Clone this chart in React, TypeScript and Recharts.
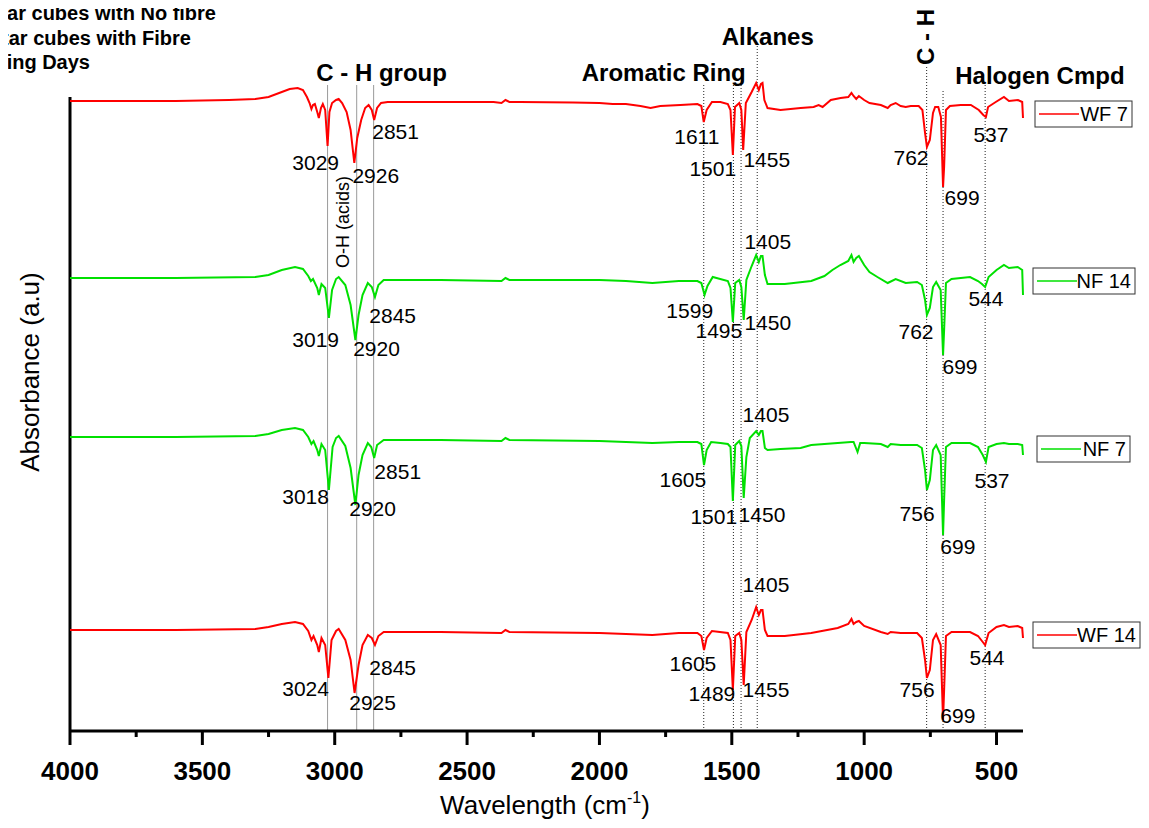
import { LineChart, Line, XAxis, YAxis, ReferenceLine, ReferenceDot } from "recharts";

type Pt = [number, number];

// FTIR spectra: [wavenumber (cm-1), absorbance relative to the trace's own baseline]
const wf7: Pt[] = [
  [4000, 0], [3800, 0], [3600, 0], [3400, 0.01], [3300, 0.02], [3250, 0.04], [3200, 0.09],
  [3170, 0.12], [3140, 0.13], [3120, 0.11], [3105, 0.04], [3095, -0.02], [3088, -0.08],
  [3082, -0.04], [3075, -0.03], [3066, -0.11], [3060, -0.17], [3052, -0.07], [3045, -0.03],
  [3036, -0.09], [3027, -0.45], [3020, -0.11], [3010, -0.02], [2995, 0.01], [2985, 0.02],
  [2972, -0.02], [2955, -0.11], [2940, -0.29], [2926, -0.62], [2915, -0.37], [2900, -0.19],
  [2885, -0.07], [2872, -0.04], [2860, -0.09], [2851, -0.19], [2840, -0.07], [2825, -0.02],
  [2800, -0.01], [2600, -0.01], [2400, -0.01], [2370, -0.02], [2355, 0.01], [2340, -0.01],
  [2300, -0.01], [2100, -0.015], [2000, -0.02], [1950, -0.03], [1900, -0.03], [1845, -0.05],
  [1807, -0.07], [1770, -0.05], [1694, -0.04], [1630, -0.03], [1615, -0.05], [1606, -0.21],
  [1595, -0.09], [1575, -0.01], [1543, -0.01], [1515, -0.03], [1505, -0.09], [1496, -0.54],
  [1488, -0.06], [1472, -0.02], [1464, -0.09], [1457, -0.49], [1447, -0.02], [1425, 0.09],
  [1408, 0.18], [1398, 0.11], [1390, 0.17], [1384, 0.18], [1377, 0.01], [1365, -0.07],
  [1316, -0.09], [1240, -0.07], [1191, -0.06], [1172, -0.04], [1157, -0.06], [1126, 0.01],
  [1089, 0.03], [1060, 0.04], [1048, 0.08], [1040, 0.05], [1030, 0.02], [1020, 0.05],
  [1000, 0.01], [980, -0.02], [937, -0.04], [911, -0.07], [900, -0.04], [881, -0.02],
  [862, -0.05], [843, -0.06], [824, -0.05], [794, -0.05], [780, -0.09], [770, -0.32],
  [763, -0.46], [752, -0.39], [740, -0.12], [732, -0.06], [720, -0.06], [710, -0.16],
  [702, -0.86], [698, -0.66], [691, -0.09], [676, -0.05], [635, -0.04], [597, -0.04],
  [567, -0.09], [550, -0.14], [540, -0.16], [532, -0.06], [503, -0.01], [472, 0.04],
  [453, 0], [419, 0.01], [403, -0.01], [400, -0.17],
];

const nf14: Pt[] = [
  [4000, 0], [3600, 0], [3300, 0.01], [3250, 0.03], [3200, 0.08], [3150, 0.11], [3120, 0.09],
  [3100, 0.02], [3090, -0.03], [3082, -0.01], [3066, -0.1], [3060, -0.17], [3050, -0.06],
  [3036, -0.1], [3022, -0.4], [3010, -0.12], [2995, -0.01], [2985, 0.01], [2960, -0.07],
  [2940, -0.27], [2922, -0.62], [2910, -0.37], [2895, -0.17], [2875, -0.05], [2860, -0.09],
  [2848, -0.19], [2835, -0.07], [2815, -0.02], [2600, -0.02], [2370, -0.03], [2355, 0],
  [2340, -0.02], [2000, -0.02], [1900, -0.03], [1800, -0.05], [1700, -0.03], [1630, -0.03],
  [1615, -0.05], [1603, -0.17], [1592, -0.08], [1572, 0.01], [1515, -0.03], [1505, -0.1],
  [1496, -0.44], [1487, -0.05], [1472, -0.02], [1464, -0.09], [1455, -0.42], [1445, -0.02],
  [1425, 0.12], [1408, 0.23], [1398, 0.16], [1390, 0.22], [1384, 0.22], [1375, 0.03],
  [1365, -0.06], [1300, -0.06], [1200, -0.03], [1150, 0.02], [1120, 0.08], [1090, 0.13],
  [1060, 0.17], [1048, 0.23], [1040, 0.16], [1030, 0.2], [1020, 0.22], [1000, 0.13],
  [980, 0.06], [950, 0.01], [911, -0.05], [881, -0.01], [843, -0.05], [800, -0.04],
  [782, -0.07], [770, -0.22], [763, -0.37], [752, -0.3], [740, -0.09], [728, -0.04],
  [711, -0.12], [702, -0.77], [698, -0.52], [691, -0.05], [670, -0.01], [600, 0.01],
  [570, -0.03], [555, -0.06], [543, -0.09], [530, 0.01], [500, 0.08], [472, 0.13],
  [453, 0.1], [420, 0.11], [403, 0.08], [400, -0.17],
];

const nf7: Pt[] = [
  [4000, 0], [3600, 0], [3300, 0.01], [3250, 0.03], [3200, 0.07], [3150, 0.09], [3120, 0.07],
  [3100, 0], [3088, -0.07], [3080, -0.04], [3066, -0.13], [3060, -0.19], [3050, -0.07],
  [3036, -0.13], [3022, -0.53], [3008, -0.1], [2995, -0.01], [2985, 0.01], [2960, -0.09],
  [2940, -0.31], [2922, -0.68], [2910, -0.38], [2895, -0.18], [2875, -0.06], [2862, -0.1],
  [2851, -0.21], [2840, -0.08], [2815, -0.03], [2600, -0.03], [2370, -0.04], [2355, -0.01],
  [2340, -0.03], [2000, -0.04], [1900, -0.05], [1800, -0.06], [1700, -0.05], [1630, -0.05],
  [1615, -0.07], [1605, -0.28], [1595, -0.13], [1578, -0.05], [1543, -0.06], [1515, -0.07],
  [1505, -0.1], [1496, -0.64], [1487, -0.08], [1472, -0.04], [1464, -0.09], [1455, -0.61],
  [1445, -0.2], [1432, -0.01], [1408, 0.06], [1398, 0.02], [1390, 0.06], [1384, 0.06],
  [1375, -0.11], [1365, -0.13], [1316, -0.12], [1240, -0.11], [1200, -0.08], [1100, -0.06],
  [1050, -0.05], [1040, -0.05], [1025, -0.15], [1015, -0.06], [1000, -0.06], [937, -0.07],
  [911, -0.1], [900, -0.07], [862, -0.08], [800, -0.08], [782, -0.11], [770, -0.33],
  [763, -0.53], [752, -0.43], [740, -0.13], [728, -0.08], [711, -0.18], [702, -0.98],
  [698, -0.63], [691, -0.1], [670, -0.06], [600, -0.06], [570, -0.1], [552, -0.18],
  [540, -0.25], [530, -0.1], [500, -0.07], [472, -0.06], [453, -0.07], [420, -0.07],
  [403, -0.08], [400, -0.18],
];

const wf14: Pt[] = [
  [4000, 0], [3600, 0], [3300, 0.01], [3250, 0.03], [3200, 0.06], [3150, 0.08], [3120, 0.06],
  [3100, -0.01], [3088, -0.1], [3080, -0.06], [3066, -0.15], [3060, -0.22], [3050, -0.08],
  [3036, -0.15], [3024, -0.48], [3012, -0.1], [2995, -0.01], [2985, 0.01], [2960, -0.1],
  [2940, -0.3], [2925, -0.63], [2910, -0.35], [2895, -0.15], [2875, -0.05], [2860, -0.08],
  [2848, -0.15], [2835, -0.06], [2815, -0.02], [2600, -0.02], [2370, -0.03], [2355, 0],
  [2340, -0.02], [2000, -0.03], [1900, -0.04], [1800, -0.05], [1700, -0.03], [1630, -0.03],
  [1615, -0.06], [1605, -0.2], [1595, -0.08], [1575, -0.01], [1515, -0.03], [1505, -0.1],
  [1496, -0.6], [1487, -0.06], [1472, -0.03], [1464, -0.1], [1455, -0.55], [1445, -0.02],
  [1425, 0.1], [1408, 0.23], [1398, 0.15], [1390, 0.2], [1384, 0.2], [1375, 0],
  [1365, -0.06], [1300, -0.06], [1200, -0.03], [1100, 0.02], [1060, 0.06], [1048, 0.11],
  [1040, 0.06], [1030, 0.08], [1020, 0.09], [1000, 0.04], [937, -0.02], [911, -0.04],
  [900, -0.02], [862, -0.03], [800, -0.03], [782, -0.08], [770, -0.3], [763, -0.48],
  [752, -0.4], [740, -0.1], [728, -0.04], [711, -0.15], [702, -0.9], [698, -0.6],
  [691, -0.06], [670, -0.02], [600, -0.02], [570, -0.06], [555, -0.11], [543, -0.15],
  [530, -0.03], [500, 0.03], [472, 0.05], [453, 0.03], [420, 0.04], [403, 0.02], [400, -0.08],
];

// vertical stacking offset of each trace
const offsets = { wf7: 6.3, nf14: 4.53, nf7: 2.94, wf14: 1.01 };

const xTicks = [4000, 3750, 3500, 3250, 3000, 2750, 2500, 2250, 2000, 1750, 1500, 1250, 1000, 750, 500];

// the drawn y axis stops at yAxisTop; the headroom above it keeps the top trace unclipped
const yAxisTop = 6.34;
const yMax = 7.31;

// band marker lines: [wavenumber, top of line]
const solidBands: Pt[] = [[3027, 6.46], [2917, 6.46], [2853, 6.46]];
const dottedBands: Pt[] = [
  [1606, 6.48], [1494, 6.48], [1465, 6.48], [1404, 6.86], [764, 6.66], [702, 6.4], [543, 6.46],
];

// peak labels: [text, wavenumber, absorbance]
type Note = [string, number, number];
const peakNotes: Note[] = [
  ["3029", 3072, 5.68], ["2926", 2845, 5.55], ["2851", 2770, 5.99], ["1611", 1632, 5.94],
  ["1501", 1572, 5.62], ["1455", 1368, 5.71], ["762", 823, 5.73], ["699", 630, 5.33],
  ["537", 521, 5.96],
  ["3019", 3072, 3.91], ["2920", 2842, 3.82], ["2845", 2781, 4.15], ["1405", 1364, 4.89],
  ["1599", 1659, 4.2], ["1495", 1549, 4.0], ["1450", 1364, 4.08], ["762", 804, 3.99],
  ["699", 638, 3.64], ["544", 540, 4.32],
  ["3018", 3110, 2.34], ["2920", 2857, 2.22], ["2851", 2762, 2.59], ["1405", 1371, 3.16],
  ["1605", 1685, 2.51], ["1501", 1568, 2.14], ["1450", 1386, 2.16], ["756", 800, 2.17],
  ["699", 646, 1.84], ["537", 517, 2.5],
  ["3024", 3110, 0.42], ["2925", 2857, 0.28], ["2845", 2781, 0.63], ["1405", 1371, 1.46],
  ["1605", 1647, 0.67], ["1489", 1575, 0.37], ["1455", 1371, 0.41], ["756", 800, 0.41],
  ["699", 646, 0.15], ["544", 536, 0.73],
];

const groupNotes: Note[] = [
  ["C - H group", 2823, 6.59], ["Aromatic Ring", 1757, 6.59], ["Alkanes", 1364, 6.95],
  ["Halogen Cmpd", 336, 6.56],
];

const series = [
  { name: "WF 7", pts: wf7, off: offsets.wf7, color: "#ff0000" },
  { name: "NF 14", pts: nf14, off: offsets.nf14, color: "#00e000" },
  { name: "NF 7", pts: nf7, off: offsets.nf7, color: "#00e000" },
  { name: "WF 14", pts: wf14, off: offsets.wf14, color: "#ff0000" },
];

const FONT = "Arial, 'Liberation Sans', sans-serif";

const toRows = (pts: Pt[], off: number) => pts.map(([w, a]) => ({ w, a: +(a + off).toFixed(3) }));

function XTick({ x, y, payload }: any) {
  const major = payload.value % 500 === 0;
  return (
    <g>
      <line x1={x} x2={x} y1={y} y2={y + (major ? 14 : 6)} stroke="#000" strokeWidth={3} />
      {major && (
        <text x={x} y={y + 49} textAnchor="middle" fontSize={26} fontWeight="bold" fontFamily={FONT} fill="#000">
          {payload.value}
        </text>
      )}
    </g>
  );
}

// legend boxes sit beside each trace
const legendBoxes = [
  { name: "WF 7", color: "#ff0000", x: 1035, y: 101, w: 97 },
  { name: "NF 14", color: "#00e000", x: 1033, y: 268, w: 102 },
  { name: "NF 7", color: "#00e000", x: 1037, y: 436, w: 93 },
  { name: "WF 14", color: "#ff0000", x: 1033, y: 622, w: 107 },
];

export default function App() {
  return (
    <div style={{ position: "relative", width: 1149, height: 828, margin: -8, overflow: "hidden", background: "#fff" }}>
      <LineChart width={1149} height={828} margin={{ top: 0, right: 126, bottom: 37, left: 70 }}>
        <XAxis
          type="number"
          dataKey="w"
          domain={[400, 4000]}
          reversed
          ticks={xTicks}
          interval={0}
          tickLine={false}
          tickSize={0}
          tickMargin={0}
          tick={<XTick />}
          height={60}
          axisLine={{ stroke: "#000", strokeWidth: 3 }}
        />
        <YAxis type="number" domain={[0, yMax]} width={0} tick={false} tickLine={false} axisLine={false} />
        <ReferenceLine
          segment={[{ x: 4000, y: 0 }, { x: 4000, y: yAxisTop }]}
          stroke="#000"
          strokeWidth={3}
          ifOverflow="visible"
        />
        {solidBands.map(([w, top]) => (
          <ReferenceLine key={"s" + w} segment={[{ x: w, y: 0 }, { x: w, y: top }]} stroke="#9a9a9a" strokeWidth={1} ifOverflow="visible" />
        ))}
        {dottedBands.map(([w, top]) => (
          <ReferenceLine key={"d" + w} segment={[{ x: w, y: 0 }, { x: w, y: top }]} stroke="#222" strokeWidth={1} strokeDasharray="1 2" ifOverflow="visible" />
        ))}
        {series.map((s) => (
          <Line
            key={s.name}
            data={toRows(s.pts, s.off)}
            dataKey="a"
            name={s.name}
            type="linear"
            dot={false}
            stroke={s.color}
            strokeWidth={2}
            isAnimationActive={false}
          />
        ))}
        {peakNotes.map(([t, w, v], i) => (
          <ReferenceDot
            key={"p" + i}
            x={w}
            y={v}
            r={0}
            fill="none"
            stroke="none"
            ifOverflow="visible"
            label={{ value: t, position: "center", fontSize: 21, fill: "#000", fontFamily: FONT }}
          />
        ))}
        {groupNotes.map(([t, w, v], i) => (
          <ReferenceDot
            key={"g" + i}
            x={w}
            y={v}
            r={0}
            fill="none"
            stroke="none"
            ifOverflow="visible"
            label={{ value: t, position: "center", fontSize: 24, fontWeight: "bold", fill: "#000", fontFamily: FONT }}
          />
        ))}
        <ReferenceDot
          x={770}
          y={6.94}
          r={0}
          fill="none"
          stroke="none"
          ifOverflow="visible"
          label={{ value: "C - H", position: "center", angle: -90, fontSize: 24, fontWeight: "bold", fill: "#000", fontFamily: FONT }}
        />
        <ReferenceDot
          x={2970}
          y={5.09}
          r={0}
          fill="none"
          stroke="none"
          ifOverflow="visible"
          label={{ value: "O-H (acids)", position: "center", angle: -90, fontSize: 18, fill: "#000", fontFamily: FONT }}
        />
      </LineChart>

      <svg width={1149} height={828} style={{ position: "absolute", left: 0, top: 0, pointerEvents: "none" }} fontFamily={FONT}>
        <g fontSize={20} fontWeight="bold" textAnchor="end" fill="#000">
          <text x={216} y={20}>Mortar cubes with No fibre</text>
          <text x={191} y={45}>Mortar cubes with Fibre</text>
          <text x={90} y={69}>Curing Days</text>
        </g>
        <text x={545} y={814} textAnchor="middle" fontSize={26} fill="#000">
          Wavelength (cm<tspan dy={-11} fontSize={16}>-1</tspan>
          <tspan dy={11}>)</tspan>
        </text>
        <text transform="translate(39,372) rotate(-90)" textAnchor="middle" fontSize={26} fill="#000">
          Absorbance (a.u)
        </text>
        {legendBoxes.map((b) => (
          <g key={b.name}>
            <rect x={b.x} y={b.y} width={b.w} height={26} fill="#fff" stroke="#333" strokeWidth={1} />
            <line x1={b.x + 4} x2={b.x + 44} y1={b.y + 13} y2={b.y + 13} stroke={b.color} strokeWidth={1.5} />
            <text x={b.x + b.w - 4} y={b.y + 20} textAnchor="end" fontSize={20} fill="#000">
              {b.name}
            </text>
          </g>
        ))}
      </svg>
    </div>
  );
}
